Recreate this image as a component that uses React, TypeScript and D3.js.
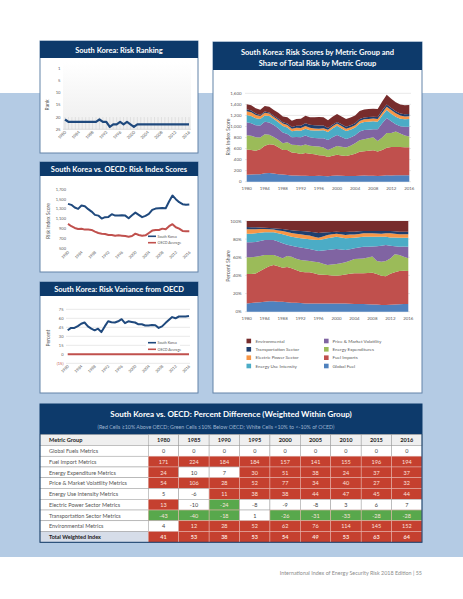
import React from 'react';
import * as d3 from 'd3';

// ---------------- DATA ----------------
const years = [1980,1981,1982,1983,1984,1985,1986,1987,1988,1989,1990,1991,1992,1993,1994,1995,1996,1997,1998,1999,2000,2001,2002,2003,2004,2005,2006,2007,2008,2009,2010,2011,2012,2013,2014,2015,2016];
const xTickYears = [1980,1984,1988,1992,1996,2000,2004,2008,2012,2016];

const rankKorea = [21,22,22,22,22,22,22,22,22,22,21,22,22,24,23,23,22,23,22,23,24,23,23,23,23,23,23,23,23,23,23,23,23,23,23,23,23];
const rankTicks = [0,5,10,15,20,25];
const rankTickLabels = ['1','5','10','15','20','25'];

const scoreKorea = [1404,1384,1329,1302,1370,1357,1296,1247,1180,1165,1104,1133,1139,1194,1165,1165,1173,1165,1112,1173,1226,1180,1133,1160,1200,1282,1308,1315,1322,1315,1451,1573,1500,1439,1398,1384,1390];
const scoreOECD = [996,949,914,894,898,880,880,873,839,812,798,791,771,771,757,764,757,750,737,750,798,771,757,764,812,860,873,873,900,887,949,990,928,900,853,846,846];
const scoreTicks = [500,700,900,1100,1300,1500,1700];

const varianceKorea = [40,44,44,47,51,53,46.5,42.7,40,42.7,37,46.5,55,53.5,53,55,58.5,52,55,54,53,50,50,48,48,49,48.5,44,46.5,52,57,62,60,63,63,63,64];
const varianceOECD = [0,0,0,0,0,0,0,0,0,0,0,0,0,0,0,0,0,0,0,0,0,0,0,0,0,0,0,0,0,0,0,0,0,0,0,0,0];
const varianceTicks = [-15,0,15,30,45,60,75];
const varianceTickLabels = ['(15)','0','15','30','45','60','75'];

const globalFuel = [126,131,133,137,151,156,149,137,130,122,110,113,108,107,105,105,106,105,100,106,110,106,102,102,102,109,111,109,106,103,109,116,114,115,115,116,118];
const fuelImports = [456,443,425,449,500,522,518,486,443,454,417,408,393,412,401,390,375,370,349,364,376,369,363,382,406,433,442,451,463,443,467,497,516,511,514,507,507];
const energyExpenditures = [260,256,246,215,206,170,143,137,122,140,142,142,148,155,146,146,157,142,123,141,158,156,152,168,188,206,216,226,234,189,223,267,252,283,245,215,192];
const priceVolatility = [232,228,219,215,226,224,214,206,197,146,134,147,155,161,154,151,147,169,183,194,202,177,154,148,143,159,169,156,145,214,257,275,210,130,129,155,179];
const energyUseIntensity = [133,131,126,117,116,115,110,112,116,117,109,117,117,123,125,133,142,146,143,156,167,157,146,142,140,146,144,145,145,138,144,142,138,138,138,137,138];
const electricPower = [70,69,60,55,51,47,39,37,44,47,45,48,50,50,47,40,30,35,41,41,40,41,42,44,44,46,48,49,49,46,48,61,68,60,55,51,51];
const transportation = [34,30,27,21,19,18,19,25,26,29,32,37,42,49,51,55,61,49,32,29,27,32,36,35,35,36,34,34,34,37,44,41,38,37,38,40,40];
const environmental = [93,94,93,94,101,104,104,106,104,111,114,121,125,136,137,146,155,149,139,143,145,142,138,139,142,146,144,145,145,145,160,173,165,164,165,163,164];
const metricNames = ['Global Fuel','Fuel Imports','Energy Expenditures','Price & Market Volatility','Energy Use Intensity','Electric Power Sector','Transportation Sector','Environmental'];
const metricSeries = [globalFuel, fuelImports, energyExpenditures, priceVolatility, energyUseIntensity, electricPower, transportation, environmental];
const stackTicks = [0,200,400,600,800,1000,1200,1400,1600];
const shareTicks = [0,0.2,0.4,0.6,0.8,1];

const legendLeft = ['Environmental','Transportation Sector','Electric Power Sector','Energy Use Intensity'];
const legendRight = ['Price & Market Volatility','Energy Expenditures','Fuel Imports','Global Fuel'];

const tableCols = ['1980','1985','1990','1995','2000','2005','2010','2015','2016'];
const tableRowNames = ['Global Fuels Metrics','Fuel Import Metrics','Energy Expenditure Metrics','Price & Market Volatility Metrics','Energy Use Intensity Metrics','Electric Power Sector Metrics','Transportation Sector Metrics','Environmental Metrics','Total Weighted Index'];
const diffGlobalFuels = [0,0,0,0,0,0,0,0,0];
const diffFuelImport = [171,224,184,184,157,141,155,196,194];
const diffEnergyExpenditure = [24,10,7,30,51,38,24,37,37];
const diffPriceVolatility = [54,106,28,52,77,34,40,27,32];
const diffEnergyUse = [5,-6,11,38,38,44,47,45,44];
const diffElectricPower = [13,-10,-24,-8,-9,-8,3,6,7];
const diffTransportation = [-43,-40,-18,1,-26,-31,-33,-28,-28];
const diffEnvironmental = [4,12,28,52,62,76,114,145,152];
const diffTotal = [41,53,38,53,54,49,53,63,64];
const tableValues = [diffGlobalFuels, diffFuelImport, diffEnergyExpenditure, diffPriceVolatility, diffEnergyUse, diffElectricPower, diffTransportation, diffEnvironmental, diffTotal];

// ---------------- STYLE ----------------
const FONT = "Lato, 'Open Sans', 'DejaVu Sans', sans-serif";
const NAVY = '#0d3a6b';
const BAND = '#b4cbe4';
const BORDER = '#6383a8';
const TICK = '#5a5a5a';
const KOREA = '#1f497d';
const OECD = '#c0504d';
const GRID = '#d9d9d9';
const metricColors: Record<string, string> = {
  'Global Fuel': '#4f81bd',
  'Fuel Imports': '#c0504d',
  'Energy Expenditures': '#9bbb59',
  'Price & Market Volatility': '#8064a2',
  'Energy Use Intensity': '#4bacc6',
  'Electric Power Sector': '#f79646',
  'Transportation Sector': '#1f3f6e',
  'Environmental': '#772c2c',
};
const CELL_RED = '#c5402f';
const CELL_GREEN = '#58a84c';

type PanelProps = { x: number; y: number; w: number; h: number; titleH: number; lines: { text: string; y: number }[]; size?: number };
function Panel({ x, y, w, h, titleH, lines, size = 7.5 }: PanelProps) {
  return (
    <g>
      <rect x={x} y={y} width={w} height={h} fill="#fff" stroke={BORDER} strokeWidth={1} />
      <rect x={x} y={y} width={w} height={titleH} fill={NAVY} />
      {lines.map((l, i) => (
        <text key={i} x={x + w / 2} y={l.y} textAnchor="middle" fill="#fff" fontWeight={700} fontSize={size} fontFamily={FONT}>{l.text}</text>
      ))}
    </g>
  );
}

function RotLabels({ x, y, fs = 4.2 }: { x: d3.ScaleLinear<number, number>; y: number; fs?: number }) {
  return (
    <g>
      {xTickYears.map((yr) => (
        <text key={yr} transform={`translate(${x(yr) + 1.5},${y}) rotate(-45)`} textAnchor="end" fontSize={fs} fill={TICK} fontFamily={FONT}>{yr}</text>
      ))}
    </g>
  );
}

export default function App() {
  // ---- Panel 1: ranking
  const x1 = d3.scaleLinear().domain([1980, 2016]).range([65, 189]);
  const y1 = d3.scaleLinear().domain([0, 25]).range([68, 129.3]);
  const line1 = d3.line<number>().x((_, i) => x1(years[i])).y((d) => y1(d));

  // ---- Panel 2: scores
  const x2 = d3.scaleLinear().domain([1980, 2016]).range([68, 189.3]);
  const y2 = d3.scaleLinear().domain([500, 1700]).range([248.3, 189.3]);
  const line2 = d3.line<number>().x((_, i) => x2(years[i])).y((d) => y2(d));

  // ---- Panel 3: variance
  const x3 = d3.scaleLinear().domain([1980, 2016]).range([67.7, 189]);
  const y3 = d3.scaleLinear().domain([-15, 75]).range([363.3, 309.3]);
  const line3 = d3.line<number>().x((_, i) => x3(years[i])).y((d) => y3(d));

  // ---- Right stacked
  const rows = years.map((yr, i) => {
    const r: any = { year: yr };
    metricNames.forEach((m, k) => (r[m] = metricSeries[k][i]));
    return r;
  });
  const stackAbs = d3.stack<any>().keys(metricNames)(rows);
  const stackPct = d3.stack<any>().keys(metricNames).offset(d3.stackOffsetExpand)(rows);
  const xA = d3.scaleLinear().domain([1980, 2016]).range([246.7, 409.3]);
  const yA = d3.scaleLinear().domain([0, 1600]).range([181.7, 93.3]);
  const areaA = d3.area<any>().x((d) => xA(d.data.year)).y0((d) => yA(d[0])).y1((d) => yA(d[1]));
  const xB = d3.scaleLinear().domain([1980, 2016]).range([246.7, 408.3]);
  const yB = d3.scaleLinear().domain([0, 1]).range([311.7, 221]);
  const areaB = d3.area<any>().x((d) => xB(d.data.year)).y0((d) => yB(d[0])).y1((d) => yB(d[1]));

  // ---- Table
  const colScale = d3.scaleBand<string>().domain(tableCols).range([148.3, 422]);
  const rowScale = d3.scaleBand<string>().domain(['header', ...tableRowNames]).range([434.7, 542.3]);
  const rh = rowScale.bandwidth();
  const cellFill = (v: number) => (v > 10 ? CELL_RED : v < -10 ? CELL_GREEN : '#ffffff');

  const legendRowsY = [341, 349.3, 357.7, 366];

  return (
    <svg width={463} height={599} style={{ position: 'absolute', left: 0, top: 0, background: '#fff' }} fontFamily={FONT}>
      <defs>
        <linearGradient id="rkg" x1="0" y1="0" x2="0" y2="1">
          <stop offset="0" stopColor="#ffffff" />
          <stop offset="1" stopColor="#eeeeee" />
        </linearGradient>
      </defs>
      <rect x={0} y={0} width={463} height={599} fill="#fff" />
      <rect x={0} y={93} width={463} height={464} fill={BAND} />

      {/* Panel 1 */}
      <Panel x={40} y={41} w={158} h={112} titleH={17} lines={[{ text: 'South Korea: Risk Ranking', y: 52.5 }]} />
      <rect x={63} y={62} width={128} height={67.3} fill="url(#rkg)" />
      {years.map((yr) => (
        <line key={yr} x1={x1(yr)} x2={x1(yr)} y1={y1(20)} y2={y1(25)} stroke="#cfcfcf" strokeWidth={0.5} />
      ))}
      <line x1={63} x2={191} y1={y1(25)} y2={y1(25)} stroke="#c8c8c8" strokeWidth={0.6} />
      {rankTicks.map((t, i) => (
        <text key={t} x={60.5} y={y1(t) + 1.5} textAnchor="end" fontSize={4.2} fill={TICK}>{rankTickLabels[i]}</text>
      ))}
      <text transform="translate(49,105) rotate(-90)" textAnchor="middle" fontSize={5} fill={TICK}>Rank</text>
      <path d={line1(rankKorea) || ''} fill="none" stroke={KOREA} strokeWidth={2.2} strokeLinejoin="round" />
      <RotLabels x={x1} y={132.5} />

      {/* Panel 2 */}
      <Panel x={40} y={162} w={158} h={110} titleH={14} lines={[{ text: 'South Korea vs. OECD: Risk Index Scores', y: 171.5 }]} />
      {scoreTicks.map((t) => (
        <text key={t} x={66} y={y2(t) + 1.5} textAnchor="end" fontSize={4} fill={TICK}>{d3.format(',')(t)}</text>
      ))}
      <text transform="translate(49.5,221) rotate(-90)" textAnchor="middle" fontSize={5} fill={TICK}>Risk Index Score</text>
      <path d={line2(scoreOECD) || ''} fill="none" stroke={OECD} strokeWidth={2} strokeLinejoin="round" />
      <path d={line2(scoreKorea) || ''} fill="none" stroke={KOREA} strokeWidth={2} strokeLinejoin="round" />
      <line x1={148} x2={156} y1={236.3} y2={236.3} stroke={KOREA} strokeWidth={1.6} />
      <text x={157.5} y={237.6} fontSize={3.6} fill={TICK}>South Korea</text>
      <line x1={148} x2={156} y1={242.7} y2={242.7} stroke={OECD} strokeWidth={1.6} />
      <text x={157.5} y={244} fontSize={3.6} fill={TICK}>OECD Average</text>
      <RotLabels x={x2} y={252.5} fs={4} />

      {/* Panel 3 */}
      <Panel x={40} y={282} w={158} h={111} titleH={14} lines={[{ text: 'South Korea: Risk Variance from OECD', y: 292.3 }]} />
      {varianceTicks.map((t, i) => (
        <g key={t}>
          {t !== 0 && <line x1={66} x2={190} y1={y3(t)} y2={y3(t)} stroke={GRID} strokeWidth={0.6} />}
          <text x={63.5} y={y3(t) + 1.5} textAnchor="end" fontSize={4} fill={t < 0 ? '#c0504d' : TICK}>{varianceTickLabels[i]}</text>
        </g>
      ))}
      <text transform="translate(49.5,338) rotate(-90)" textAnchor="middle" fontSize={5} fill={TICK}>Percent</text>
      <path d={line3(varianceOECD) || ''} fill="none" stroke={OECD} strokeWidth={2} />
      <path d={line3(varianceKorea) || ''} fill="none" stroke={KOREA} strokeWidth={2} strokeLinejoin="round" />
      <rect x={146} y={340} width={34} height={12} fill="#fff" />
      <line x1={148} x2={156} y1={342.7} y2={342.7} stroke={KOREA} strokeWidth={1.6} />
      <text x={157.5} y={344} fontSize={3.6} fill={TICK}>South Korea</text>
      <line x1={148} x2={156} y1={349.3} y2={349.3} stroke={OECD} strokeWidth={1.6} />
      <text x={157.5} y={350.6} fontSize={3.6} fill={TICK}>OECD Average</text>
      <RotLabels x={x3} y={366.5} fs={4} />

      {/* Right panel */}
      <Panel x={213} y={42} w={209} h={351} titleH={28}
        lines={[{ text: 'South Korea: Risk Scores by Metric Group and', y: 54.8 }, { text: 'Share of Total Risk by Metric Group', y: 66.3 }]} />
      {stackTicks.map((t) => (
        <g key={t}>
          <line x1={245} x2={411} y1={yA(t)} y2={yA(t)} stroke={GRID} strokeWidth={0.6} />
          <text x={241.5} y={yA(t) + 1.6} textAnchor="end" fontSize={4.4} fill={TICK}>{d3.format(',')(t)}</text>
        </g>
      ))}
      {stackAbs.map((s) => (
        <path key={s.key} d={areaA(s as any) || ''} fill={metricColors[s.key]} />
      ))}
      {xTickYears.map((yr) => (
        <text key={yr} x={xA(yr)} y={190} textAnchor="middle" fontSize={4.4} fill={TICK}>{yr}</text>
      ))}
      <text transform="translate(229.5,137) rotate(-90)" textAnchor="middle" fontSize={5.2} fill={TICK}>Risk Index Score</text>

      {shareTicks.map((t) => (
        <g key={t}>
          <line x1={245} x2={410} y1={yB(t)} y2={yB(t)} stroke={GRID} strokeWidth={0.6} />
          <text x={241.5} y={yB(t) + 1.6} textAnchor="end" fontSize={4.4} fill={TICK}>{d3.format('.0%')(t)}</text>
        </g>
      ))}
      {stackPct.map((s) => (
        <path key={s.key} d={areaB(s as any) || ''} fill={metricColors[s.key]} />
      ))}
      {xTickYears.map((yr) => (
        <text key={yr} x={xB(yr)} y={319.5} textAnchor="middle" fontSize={4.4} fill={TICK}>{yr}</text>
      ))}
      <text transform="translate(229.5,266) rotate(-90)" textAnchor="middle" fontSize={5.2} fill={TICK}>Percent Share</text>

      {legendLeft.map((m, i) => (
        <g key={m}>
          <rect x={246.5} y={legendRowsY[i] - 2.3} width={4.6} height={4.6} fill={metricColors[m]} />
          <text x={255.5} y={legendRowsY[i] + 1.7} fontSize={4.6} fill={TICK}>{m}</text>
        </g>
      ))}
      {legendRight.map((m, i) => (
        <g key={m}>
          <rect x={324} y={legendRowsY[i] - 2.3} width={4.6} height={4.6} fill={metricColors[m]} />
          <text x={332.5} y={legendRowsY[i] + 1.7} fontSize={4.6} fill={TICK}>{m}</text>
        </g>
      ))}

      {/* Table */}
      <rect x={40} y={404} width={382} height={138.3} fill="#fff" />
      <rect x={40} y={404} width={382} height={30.7} fill={NAVY} />
      <text x={231} y={416.6} textAnchor="middle" fill="#fff" fontWeight={700} fontSize={8}>South Korea vs. OECD: Percent Difference (Weighted Within Group)</text>
      <text x={216} y={429.3} textAnchor="middle" fill="#9fb4cf" fontSize={5.3}>(Red Cells ≥10% Above OECD; Green Cells ≤10% Below OECD; White Cells &lt;10% to &lt;-10% of OCED)</text>
      {/* header */}
      <rect x={40} y={rowScale('header')!} width={382} height={rh} fill="#efefef" stroke="#9a9a9a" strokeWidth={0.5} />
      <text x={49} y={rowScale('header')! + 7.6} fontSize={5.6} fontWeight={700} fill="#222">Metric Group</text>
      {tableCols.map((c) => (
        <g key={c}>
          <rect x={colScale(c)!} y={rowScale('header')!} width={colScale.bandwidth()} height={rh} fill="#efefef" stroke="#9a9a9a" strokeWidth={0.5} />
          <text x={colScale(c)! + colScale.bandwidth() / 2} y={rowScale('header')! + 7.6} textAnchor="middle" fontSize={5.6} fontWeight={700} fill="#222">{c}</text>
        </g>
      ))}
      {tableRowNames.map((rn, ri) => {
        const ry = rowScale(rn)!;
        const isTotal = ri === tableRowNames.length - 1;
        return (
          <g key={rn}>
            <rect x={40} y={ry} width={108.3} height={rh} fill={isTotal ? '#d6dde9' : '#fff'} stroke="#9a9a9a" strokeWidth={0.5} />
            <text x={49} y={ry + 7.6} fontSize={5.5} fontWeight={isTotal ? 700 : 400} fill={isTotal ? '#1a1a1a' : '#555'}>{rn}</text>
            {tableValues[ri].map((v, ci) => {
              const c = tableCols[ci];
              const f = cellFill(v);
              return (
                <g key={c}>
                  <rect x={colScale(c)!} y={ry} width={colScale.bandwidth()} height={rh} fill={f} stroke={f === '#ffffff' ? '#9a9a9a' : '#e8b5ae'} strokeWidth={0.5} />
                  <text x={colScale(c)! + colScale.bandwidth() / 2} y={ry + 7.6} textAnchor="middle" fontSize={5.5} fontWeight={isTotal ? 700 : 400} fill={f === '#ffffff' ? '#444' : '#fbe3df'}>{v}</text>
                </g>
              );
            })}
          </g>
        );
      })}
      <rect x={40} y={404} width={382} height={138.3} fill="none" stroke={NAVY} strokeWidth={1} />

      <text x={422} y={574.5} textAnchor="end" fontSize={5.4} fill="#8c8c8c">International Index of Energy Security Risk 2018 Edition | 55</text>
    </svg>
  );
}
